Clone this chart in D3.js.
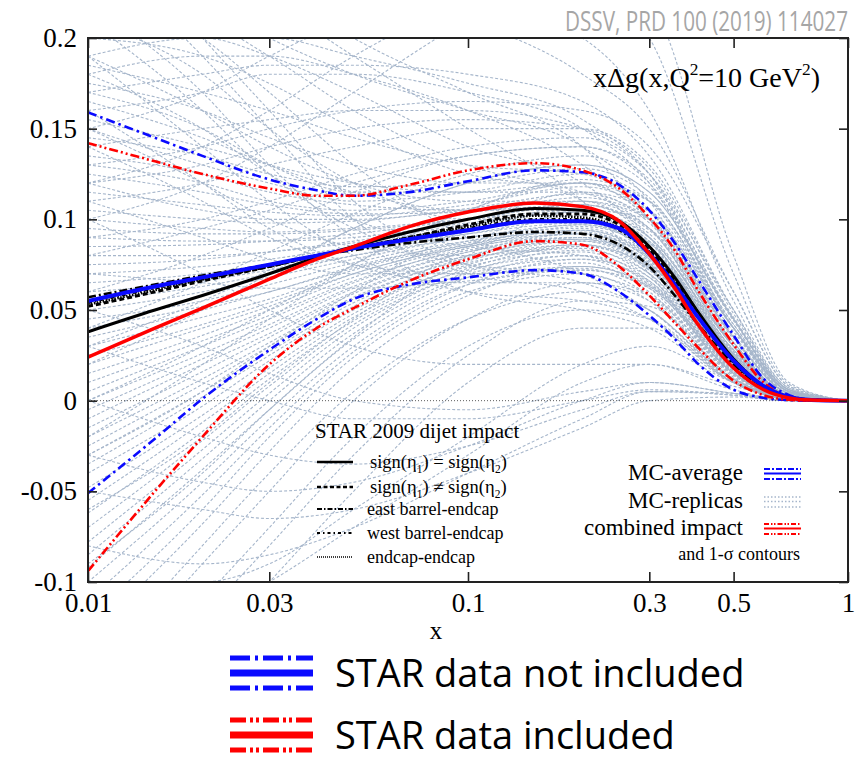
<!DOCTYPE html>
<html>
<head>
<meta charset="utf-8">
<script src="https://cdn.jsdelivr.net/npm/d3@7"></script>
<style>
body { margin: 0; background: white; }
svg { display: block; }
</style>
</head>
<body>
<script>
//Data
//x nodes of the central and contour curves
var xNodes = [0.01, 0.015, 0.02, 0.03, 0.04, 0.05, 0.07, 0.1, 0.15, 0.2, 0.25, 0.3, 0.35, 0.4, 0.5, 0.6, 0.7, 0.8, 1.0];

//MC-average (STAR data not included) and its 1-sigma contours
var blueAvg   = [0.055, 0.063, 0.068, 0.075, 0.080, 0.084, 0.089, 0.094, 0.099, 0.099, 0.095, 0.081, 0.064, 0.047, 0.022, 0.008, 0.002, 0.0004, 0];
var blueUpper = [0.159, 0.145, 0.135, 0.122, 0.116, 0.113, 0.115, 0.121, 0.127, 0.126, 0.119, 0.105, 0.087, 0.068, 0.036, 0.012, 0.003, 0.0005, 0];
var blueLower = [-0.051, -0.021, 0.001, 0.028, 0.045, 0.056, 0.064, 0.068, 0.072, 0.070, 0.060, 0.047, 0.034, 0.021, 0.006, 0.0015, 0.0003, 0, 0];

//combined impact (STAR data included) and its 1-sigma contours
var redAvg   = [0.024, 0.040, 0.051, 0.067, 0.078, 0.085, 0.096, 0.104, 0.109, 0.107, 0.099, 0.081, 0.062, 0.043, 0.018, 0.006, 0.0015, 0.0003, 0];
var redUpper = [0.142, 0.132, 0.125, 0.117, 0.113, 0.113, 0.119, 0.127, 0.131, 0.127, 0.117, 0.101, 0.083, 0.062, 0.031, 0.010, 0.002, 0.0003, 0];
var redLower = [-0.094, -0.050, -0.020, 0.020, 0.040, 0.051, 0.066, 0.078, 0.088, 0.086, 0.074, 0.058, 0.043, 0.030, 0.011, 0.003, 0.0005, 0, 0];

//STAR 2009 dijet topologies
var signEqual    = [0.038, 0.050, 0.058, 0.070, 0.079, 0.085, 0.093, 0.100, 0.106, 0.105, 0.099, 0.085, 0.068, 0.050, 0.023, 0.008, 0.002, 0.0004, 0];
var signNotEqual = [0.052, 0.060, 0.066, 0.074, 0.080, 0.084, 0.090, 0.097, 0.103, 0.103, 0.097, 0.083, 0.066, 0.048, 0.022, 0.008, 0.002, 0.0004, 0];
var eastBarrel   = [0.057, 0.064, 0.069, 0.075, 0.080, 0.083, 0.087, 0.090, 0.093, 0.092, 0.086, 0.074, 0.058, 0.043, 0.020, 0.007, 0.002, 0.0004, 0];
var westBarrel   = [0.054, 0.062, 0.067, 0.074, 0.080, 0.084, 0.089, 0.095, 0.100, 0.100, 0.094, 0.081, 0.064, 0.047, 0.021, 0.007, 0.002, 0.0004, 0];
var endcapEndcap = [0.053, 0.061, 0.067, 0.074, 0.080, 0.084, 0.090, 0.096, 0.102, 0.101, 0.095, 0.082, 0.065, 0.047, 0.022, 0.008, 0.002, 0.0004, 0];

//MC replicas, read at these x nodes
var replicaNodes = [0.01, 0.02, 0.03, 0.05, 0.1, 0.2, 0.3, 0.5, 0.7, 1.0];
var replicas = [
    [0.19, 0.16, 0.14, 0.12, 0.11, 0.11, 0.09, 0.03, 0.003, 0],
    [0.21, 0.18, 0.15, 0.12, 0.10, 0.10, 0.08, 0.025, 0.002, 0],
    [0.17, 0.15, 0.13, 0.115, 0.115, 0.12, 0.10, 0.035, 0.004, 0],
    [0.15, 0.13, 0.12, 0.11, 0.115, 0.125, 0.11, 0.04, 0.005, 0],
    [0.13, 0.12, 0.11, 0.105, 0.11, 0.12, 0.105, 0.04, 0.005, 0],
    [0.12, 0.105, 0.10, 0.10, 0.105, 0.11, 0.095, 0.03, 0.003, 0],
    [0.10, 0.095, 0.093, 0.095, 0.10, 0.105, 0.09, 0.03, 0.003, 0],
    [0.09, 0.088, 0.088, 0.09, 0.098, 0.104, 0.088, 0.028, 0.003, 0],
    [0.08, 0.08, 0.082, 0.087, 0.095, 0.10, 0.085, 0.026, 0.003, 0],
    [0.07, 0.074, 0.078, 0.085, 0.095, 0.102, 0.087, 0.025, 0.002, 0],
    [0.065, 0.07, 0.075, 0.083, 0.092, 0.098, 0.083, 0.024, 0.002, 0],
    [0.06, 0.066, 0.072, 0.08, 0.09, 0.097, 0.082, 0.022, 0.002, 0],
    [0.05, 0.06, 0.068, 0.078, 0.09, 0.095, 0.08, 0.022, 0.002, 0],
    [0.045, 0.055, 0.064, 0.076, 0.088, 0.093, 0.078, 0.02, 0.002, 0],
    [0.04, 0.052, 0.06, 0.074, 0.087, 0.094, 0.079, 0.021, 0.002, 0],
    [0.03, 0.046, 0.056, 0.072, 0.086, 0.092, 0.076, 0.02, 0.002, 0],
    [0.02, 0.04, 0.052, 0.07, 0.085, 0.09, 0.075, 0.02, 0.002, 0],
    [0.01, 0.033, 0.047, 0.066, 0.083, 0.09, 0.074, 0.019, 0.002, 0],
    [0.0, 0.026, 0.042, 0.063, 0.082, 0.089, 0.073, 0.018, 0.002, 0],
    [-0.01, 0.02, 0.037, 0.06, 0.08, 0.088, 0.072, 0.018, 0.002, 0],
    [-0.02, 0.012, 0.032, 0.057, 0.078, 0.086, 0.07, 0.017, 0.002, 0],
    [-0.03, 0.005, 0.027, 0.054, 0.076, 0.084, 0.068, 0.016, 0.002, 0],
    [-0.04, -0.003, 0.022, 0.05, 0.074, 0.082, 0.066, 0.015, 0.001, 0],
    [-0.055, -0.012, 0.015, 0.046, 0.072, 0.08, 0.064, 0.014, 0.001, 0],
    [-0.07, -0.022, 0.008, 0.042, 0.07, 0.078, 0.062, 0.013, 0.001, 0],
    [-0.085, -0.032, 0.0, 0.037, 0.068, 0.076, 0.06, 0.012, 0.001, 0],
    [-0.10, -0.045, -0.01, 0.03, 0.064, 0.073, 0.058, 0.011, 0.001, 0],
    [-0.12, -0.06, -0.02, 0.024, 0.06, 0.07, 0.055, 0.01, 0.001, 0],
    [0.22, 0.21, 0.19, 0.16, 0.13, 0.11, 0.08, 0.02, 0.001, 0],
    [0.20, 0.2, 0.19, 0.17, 0.14, 0.12, 0.09, 0.025, 0.002, 0],
    [0.18, 0.19, 0.19, 0.18, 0.16, 0.13, 0.10, 0.03, 0.002, 0],
    [0.16, 0.17, 0.18, 0.18, 0.17, 0.15, 0.12, 0.04, 0.004, 0],
    [0.14, 0.15, 0.155, 0.16, 0.16, 0.15, 0.125, 0.045, 0.005, 0],
    [0.11, 0.12, 0.13, 0.14, 0.15, 0.15, 0.13, 0.05, 0.006, 0],
    [0.09, 0.1, 0.11, 0.125, 0.14, 0.145, 0.125, 0.05, 0.007, 0],
    [0.23, 0.2, 0.17, 0.13, 0.09, 0.07, 0.05, 0.012, 0.001, 0],
    [0.25, 0.19, 0.15, 0.10, 0.07, 0.06, 0.045, 0.01, 0.001, 0],
    [0.22, 0.17, 0.13, 0.09, 0.06, 0.05, 0.04, 0.01, 0.001, 0],
    [0.19, 0.14, 0.11, 0.08, 0.06, 0.055, 0.045, 0.012, 0.001, 0],
    [0.16, 0.12, 0.095, 0.075, 0.065, 0.065, 0.055, 0.015, 0.001, 0],
    [0.26, 0.24, 0.22, 0.19, 0.15, 0.11, 0.07, 0.015, 0.001, 0],
    [-0.15, -0.08, -0.04, 0.005, 0.045, 0.06, 0.05, 0.01, 0.001, 0],
    [-0.18, -0.11, -0.07, -0.02, 0.03, 0.05, 0.045, 0.01, 0.001, 0],
    [-0.2, -0.14, -0.10, -0.05, 0.01, 0.04, 0.04, 0.01, 0.001, 0],
    [-0.14, -0.12, -0.10, -0.07, -0.03, 0.01, 0.02, 0.008, 0.001, 0],
    [-0.08, -0.09, -0.085, -0.07, -0.04, -0.01, 0.005, 0.004, 0.0005, 0],
    [-0.05, -0.06, -0.065, -0.06, -0.04, -0.015, 0.0, 0.002, 0, 0],
    [0.0, -0.02, -0.03, -0.035, -0.025, -0.005, 0.005, 0.003, 0, 0],
    [0.05, 0.03, 0.015, 0.0, -0.005, 0.005, 0.01, 0.004, 0, 0],
    [0.1, 0.07, 0.05, 0.03, 0.02, 0.02, 0.02, 0.006, 0, 0],
    [0.13, 0.14, 0.15, 0.16, 0.165, 0.16, 0.14, 0.06, 0.008, 0],
    [0.2, 0.22, 0.23, 0.23, 0.21, 0.18, 0.15, 0.06, 0.008, 0],
    [0.06, 0.08, 0.095, 0.115, 0.135, 0.14, 0.12, 0.045, 0.006, 0],
    [0.03, 0.055, 0.072, 0.095, 0.12, 0.13, 0.115, 0.045, 0.005, 0],
    [0.0, 0.03, 0.05, 0.075, 0.105, 0.12, 0.11, 0.04, 0.005, 0],
    [-0.03, 0.005, 0.03, 0.06, 0.095, 0.115, 0.105, 0.04, 0.005, 0],
    [-0.06, -0.02, 0.01, 0.045, 0.085, 0.11, 0.10, 0.038, 0.004, 0],
    [-0.09, -0.04, -0.005, 0.035, 0.08, 0.105, 0.10, 0.04, 0.005, 0],
    [0.15, 0.12, 0.10, 0.085, 0.08, 0.085, 0.075, 0.02, 0.002, 0],
    [0.18, 0.15, 0.125, 0.10, 0.085, 0.08, 0.065, 0.015, 0.001, 0],
    [0.1, 0.12, 0.14, 0.17, 0.21, 0.24, 0.22, 0.08, 0.01, 0],
    [0.2, 0.19, 0.175, 0.15, 0.125, 0.115, 0.095, 0.03, 0.003, 0],
    [0.185, 0.17, 0.16, 0.145, 0.13, 0.125, 0.105, 0.035, 0.004, 0],
    [0.175, 0.16, 0.145, 0.13, 0.12, 0.12, 0.1, 0.032, 0.003, 0],
    [0.165, 0.145, 0.13, 0.115, 0.105, 0.105, 0.088, 0.027, 0.002, 0],
    [0.155, 0.14, 0.13, 0.12, 0.115, 0.115, 0.098, 0.032, 0.003, 0],
    [0.145, 0.135, 0.125, 0.118, 0.12, 0.128, 0.112, 0.042, 0.005, 0],
    [0.135, 0.125, 0.115, 0.108, 0.105, 0.108, 0.092, 0.028, 0.003, 0],
    [0.125, 0.115, 0.108, 0.103, 0.104, 0.112, 0.1, 0.035, 0.004, 0],
    [0.115, 0.108, 0.104, 0.102, 0.108, 0.118, 0.104, 0.036, 0.004, 0],
    [0.105, 0.1, 0.098, 0.099, 0.106, 0.114, 0.1, 0.034, 0.004, 0],
    [0.095, 0.092, 0.092, 0.094, 0.1, 0.108, 0.094, 0.03, 0.003, 0],
    [0.085, 0.086, 0.088, 0.092, 0.1, 0.108, 0.095, 0.032, 0.003, 0],
    [0.075, 0.078, 0.082, 0.088, 0.097, 0.104, 0.09, 0.028, 0.003, 0],
    [0.055, 0.063, 0.07, 0.08, 0.092, 0.1, 0.087, 0.027, 0.003, 0],
    [0.035, 0.05, 0.06, 0.073, 0.088, 0.097, 0.085, 0.026, 0.002, 0],
    [0.025, 0.042, 0.054, 0.07, 0.086, 0.096, 0.084, 0.026, 0.002, 0],
    [0.015, 0.036, 0.05, 0.068, 0.085, 0.094, 0.08, 0.024, 0.002, 0],
    [0.005, 0.03, 0.045, 0.065, 0.084, 0.092, 0.078, 0.022, 0.002, 0],
    [-0.005, 0.023, 0.04, 0.062, 0.082, 0.092, 0.079, 0.023, 0.002, 0],
    [-0.015, 0.016, 0.035, 0.059, 0.08, 0.09, 0.077, 0.022, 0.002, 0],
    [-0.025, 0.009, 0.03, 0.056, 0.079, 0.089, 0.076, 0.021, 0.002, 0],
    [-0.035, 0.002, 0.025, 0.052, 0.077, 0.088, 0.075, 0.021, 0.002, 0],
    [-0.048, -0.008, 0.018, 0.048, 0.075, 0.086, 0.073, 0.02, 0.002, 0],
    [-0.062, -0.017, 0.012, 0.044, 0.073, 0.085, 0.072, 0.019, 0.002, 0],
    [-0.078, -0.027, 0.004, 0.04, 0.071, 0.083, 0.07, 0.018, 0.001, 0],
    [-0.092, -0.038, -0.005, 0.034, 0.068, 0.08, 0.068, 0.017, 0.001, 0],
    [-0.11, -0.052, -0.015, 0.027, 0.064, 0.078, 0.066, 0.016, 0.001, 0],
    [-0.13, -0.068, -0.028, 0.018, 0.058, 0.074, 0.063, 0.015, 0.001, 0],
    [-0.16, -0.09, -0.05, 0.0, 0.045, 0.065, 0.058, 0.014, 0.001, 0],
    [-0.2, -0.12, -0.08, -0.03, 0.025, 0.055, 0.052, 0.012, 0.001, 0],
    [0.24, 0.22, 0.2, 0.18, 0.16, 0.14, 0.11, 0.03, 0.002, 0],
    [0.28, 0.25, 0.23, 0.2, 0.17, 0.14, 0.1, 0.025, 0.002, 0],
    [0.19, 0.2, 0.2, 0.19, 0.175, 0.155, 0.125, 0.04, 0.004, 0],
    [0.17, 0.18, 0.185, 0.185, 0.18, 0.165, 0.135, 0.05, 0.006, 0],
    [0.12, 0.13, 0.14, 0.15, 0.155, 0.15, 0.128, 0.048, 0.006, 0],
    [0.08, 0.095, 0.105, 0.12, 0.135, 0.14, 0.122, 0.046, 0.006, 0],
    [0.04, 0.065, 0.082, 0.103, 0.125, 0.135, 0.118, 0.044, 0.006, 0],
    [0.02, 0.05, 0.07, 0.095, 0.12, 0.13, 0.115, 0.045, 0.005, 0],
    [-0.02, 0.02, 0.045, 0.075, 0.105, 0.122, 0.11, 0.042, 0.005, 0],
    [0.27, 0.2, 0.16, 0.11, 0.075, 0.065, 0.05, 0.012, 0.001, 0],
    [0.21, 0.16, 0.125, 0.095, 0.075, 0.07, 0.058, 0.016, 0.001, 0],
    [0.14, 0.11, 0.09, 0.075, 0.07, 0.072, 0.062, 0.017, 0.001, 0],
    [0.11, 0.09, 0.078, 0.07, 0.07, 0.074, 0.064, 0.018, 0.002, 0],
    [0.07, 0.065, 0.062, 0.062, 0.066, 0.072, 0.063, 0.018, 0.002, 0],
    [-0.1, -0.1, -0.09, -0.06, -0.02, 0.02, 0.03, 0.01, 0.001, 0],
    [-0.03, -0.045, -0.05, -0.045, -0.025, 0.0, 0.01, 0.004, 0, 0],
    [0.03, 0.01, 0.0, -0.01, -0.01, 0.0, 0.006, 0.003, 0, 0],
    [0.12, 0.14, 0.16, 0.19, 0.22, 0.23, 0.2, 0.07, 0.009, 0],
    [0.15, 0.17, 0.19, 0.21, 0.22, 0.2, 0.16, 0.055, 0.007, 0]
];

//Ticks
var xTicks = [0.01, 0.03, 0.1, 0.3, 0.5, 1];
var yTicks = [-0.1, -0.05, 0, 0.05, 0.1, 0.15, 0.2];

//Parameters
var w = 861;
var h = 759;
var plotLeft = 88, plotRight = 848, plotTop = 38, plotBottom = 582;
var serif = "'Liberation Serif', 'Times New Roman', serif";
var sans = "'Open Sans', 'Noto Sans', sans-serif";
var blue = "#0a0aff";
var red = "#ff0000";
var replicaColor = "#a6b6cb";

//Dash patterns
var dashBlueContour = "9,4,2.5,4";
var dashRedContour = "9,3,2,3,2,3";
var dashSignNotEqual = "5,3";
var dashEast = "8,3,2,3";
var dashWest = "4,3,1.5,3";
var dashEndcap = "1.5,1.5";

var svg = d3.select("body").append("svg")
    .attr("width", w)
    .attr("height", h)
    .style("font-family", serif);

var x = d3.scaleLog().domain([0.01, 1]).range([plotLeft, plotRight]);
var y = d3.scaleLinear().domain([-0.1, 0.2]).range([plotBottom, plotTop]);

//Clip everything to the frame
svg.append("clipPath").attr("id", "plotClip")
    .append("rect")
    .attr("x", plotLeft)
    .attr("y", plotTop)
    .attr("width", plotRight - plotLeft)
    .attr("height", plotBottom - plotTop);

var plot = svg.append("g").attr("clip-path", "url(#plotClip)");

function lineFor(nodes) {
    return d3.line()
        .x(function (d, i) { return x(nodes[i]); })
        .y(function (d) { return y(d); })
        .curve(d3.curveMonotoneX);
}

//Replicas
var replicaLine = lineFor(replicaNodes);
plot.selectAll("path.replica")
    .data(replicas)
    .enter().append("path")
    .attr("class", "replica")
    .attr("d", replicaLine)
    .attr("fill", "none")
    .attr("stroke", replicaColor)
    .attr("stroke-width", 1.1)
    .attr("stroke-dasharray", "3,2");

//Zero line
plot.append("line")
    .attr("x1", plotLeft).attr("x2", plotRight)
    .attr("y1", y(0)).attr("y2", y(0))
    .attr("stroke", "#333")
    .attr("stroke-width", 0.8)
    .attr("stroke-dasharray", "1,2");

//Main curves
var mainLine = lineFor(xNodes);
var curves = [
    { values: blueUpper, color: blue, width: 2.6, dash: dashBlueContour },
    { values: blueLower, color: blue, width: 2.6, dash: dashBlueContour },
    { values: redUpper, color: red, width: 2.6, dash: dashRedContour },
    { values: redLower, color: red, width: 2.6, dash: dashRedContour },
    { values: eastBarrel, color: "black", width: 2.6, dash: dashEast },
    { values: endcapEndcap, color: "black", width: 2.6, dash: dashEndcap },
    { values: westBarrel, color: "black", width: 2.6, dash: dashWest },
    { values: signNotEqual, color: "black", width: 3, dash: dashSignNotEqual },
    { values: signEqual, color: "black", width: 3, dash: null },
    { values: blueAvg, color: blue, width: 4, dash: null },
    { values: redAvg, color: red, width: 3.5, dash: null }
];

plot.selectAll("path.curve")
    .data(curves)
    .enter().append("path")
    .attr("class", "curve")
    .attr("d", function (d) { return mainLine(d.values); })
    .attr("fill", "none")
    .attr("stroke", function (d) { return d.color; })
    .attr("stroke-width", function (d) { return d.width; })
    .attr("stroke-dasharray", function (d) { return d.dash; });

//Axes with inward ticks
var axisFont = 27;
var xAxisBottom = d3.axisBottom(x).tickValues(xTicks).tickFormat(function (d) { return String(d); })
    .tickSizeInner(-10).tickSizeOuter(0).tickPadding(11);
var xAxisTop = d3.axisTop(x).tickValues(xTicks).tickFormat("")
    .tickSizeInner(-10).tickSizeOuter(0);
var yAxisLeft = d3.axisLeft(y).tickValues(yTicks).tickFormat(function (d) { return String(d); })
    .tickSizeInner(-9).tickSizeOuter(0).tickPadding(11);
var yAxisRight = d3.axisRight(y).tickValues(yTicks).tickFormat("")
    .tickSizeInner(-9).tickSizeOuter(0);

function styleAxis(g) {
    g.attr("font-family", null);
    g.select(".domain").remove();
    g.selectAll(".tick line").attr("stroke", "#222").attr("stroke-width", 1.6);
    g.selectAll(".tick text")
        .attr("fill", "black")
        .style("font-family", serif)
        .style("font-size", axisFont + "px");
}

svg.append("g").attr("transform", "translate(0," + plotBottom + ")").call(xAxisBottom).call(styleAxis);
svg.append("g").attr("transform", "translate(0," + plotTop + ")").call(xAxisTop).call(styleAxis);
svg.append("g").attr("transform", "translate(" + plotLeft + ",0)").call(yAxisLeft).call(styleAxis);
svg.append("g").attr("transform", "translate(" + plotRight + ",0)").call(yAxisRight).call(styleAxis);

//Frame
svg.append("rect")
    .attr("x", plotLeft)
    .attr("y", plotTop)
    .attr("width", plotRight - plotLeft)
    .attr("height", plotBottom - plotTop)
    .attr("fill", "none")
    .attr("stroke", "#222")
    .attr("stroke-width", 2);

//Axis title
svg.append("text")
    .attr("x", 436)
    .attr("y", 639)
    .attr("text-anchor", "middle")
    .style("font-size", "25px")
    .text("x");

//Rich text helper: parts are [text, shift] with shift "sup", "sub" or none
function richText(sel, parts, size) {
    var current = 0;
    parts.forEach(function (p) {
        var target = p[1] === "sup" ? -size * 0.42 : (p[1] === "sub" ? size * 0.25 : 0);
        var t = sel.append("tspan").text(p[0]);
        if (target !== current) {
            t.attr("dy", target - current);
            current = target;
        }
        if (p[1]) {
            t.style("font-size", (size * 0.62) + "px");
        }
    });
}

//Quantity label
var qLabel = svg.append("text")
    .attr("x", 820)
    .attr("y", 87)
    .attr("text-anchor", "end")
    .style("font-size", "28px");
richText(qLabel, [["x\u0394g(x,Q"], ["2", "sup"], ["=10 GeV"], ["2", "sup"], [")"]], 28);

//Reference watermark
svg.append("text")
    .attr("x", 848)
    .attr("y", 31)
    .attr("text-anchor", "end")
    .attr("textLength", 283)
    .attr("lengthAdjust", "spacingAndGlyphs")
    .style("font-family", sans)
    .style("font-size", "27px")
    .attr("fill", "#a6a6a6")
    .text("DSSV, PRD 100 (2019) 114027");

//STAR 2009 dijet legend
svg.append("text")
    .attr("x", 315)
    .attr("y", 438)
    .style("font-size", "21px")
    .text("STAR 2009 dijet impact");

var dijetLegend = [
    { dash: null, width: 2.6, label: [["sign(\u03b7"], ["1", "sub"], [") = sign(\u03b7"], ["2", "sub"], [")"]], size: 18.5, tx: 370 },
    { dash: "4,2.5", width: 2.6, label: [["sign(\u03b7"], ["1", "sub"], [") \u2260 sign(\u03b7"], ["2", "sub"], [")"]], size: 18.5, tx: 370 },
    { dash: "5,2,1.5,2", width: 2, label: [["east barrel-endcap"]], size: 18, tx: 367 },
    { dash: "3,3,1.5,3", width: 2, label: [["west barrel-endcap"]], size: 18, tx: 367 },
    { dash: "1,1", width: 1.6, label: [["endcap-endcap"]], size: 18, tx: 367 }
];
var dijetRows = [462, 487, 509, 533, 557];

dijetLegend.forEach(function (d, i) {
    svg.append("line")
        .attr("x1", 317).attr("x2", 353)
        .attr("y1", dijetRows[i]).attr("y2", dijetRows[i])
        .attr("stroke", "black")
        .attr("stroke-width", d.width)
        .attr("stroke-dasharray", d.dash);
    var t = svg.append("text")
        .attr("x", d.tx)
        .attr("y", dijetRows[i] + 6)
        .style("font-size", d.size + "px");
    richText(t, d.label, d.size);
});

//MC legend
var mcLegend = [
    { label: "MC-average", color: blue, dash: "6,2,2,2", width: 1.8, y: 480 },
    { label: "MC-replicas", color: replicaColor, dash: "1.5,2", width: 1.6, y: 508 },
    { label: "combined impact", color: red, dash: "5,2,1.5,1.5,1.5,2", width: 1.8, y: 535 }
];

mcLegend.forEach(function (d) {
    svg.append("text")
        .attr("x", 743)
        .attr("y", d.y)
        .attr("text-anchor", "end")
        .style("font-size", "23px")
        .text(d.label);
    [-11, -6.5, -1].forEach(function (off, k) {
        var solidMiddle = k === 1 && d.label !== "MC-replicas";
        svg.append("line")
            .attr("x1", 764).attr("x2", 801)
            .attr("y1", d.y + off).attr("y2", d.y + off)
            .attr("stroke", d.color)
            .attr("stroke-width", solidMiddle ? 2.2 : d.width)
            .attr("stroke-dasharray", solidMiddle ? null : d.dash);
    });
});

svg.append("text")
    .attr("x", 800)
    .attr("y", 560)
    .attr("text-anchor", "end")
    .style("font-size", "18px")
    .text("and 1-\u03c3 contours");

//Bottom legend
var bottomLegend = [
    { label: "STAR data not included", color: blue, dash: "20,5,3,5", y: 673 },
    { label: "STAR data included", color: red, dash: "16,4,3,3,3,4", y: 735 }
];

bottomLegend.forEach(function (d) {
    [-15, 15].forEach(function (off) {
        svg.append("line")
            .attr("x1", 230).attr("x2", 313)
            .attr("y1", d.y + off).attr("y2", d.y + off)
            .attr("stroke", d.color)
            .attr("stroke-width", 5)
            .attr("stroke-dasharray", d.dash);
    });
    svg.append("line")
        .attr("x1", 230).attr("x2", 313)
        .attr("y1", d.y).attr("y2", d.y)
        .attr("stroke", d.color)
        .attr("stroke-width", 7);
    svg.append("text")
        .attr("x", 335)
        .attr("y", d.y + 14)
        .style("font-family", sans)
        .style("font-size", "38px")
        .attr("fill", "black")
        .text(d.label);
});
</script>
</body>
</html>
